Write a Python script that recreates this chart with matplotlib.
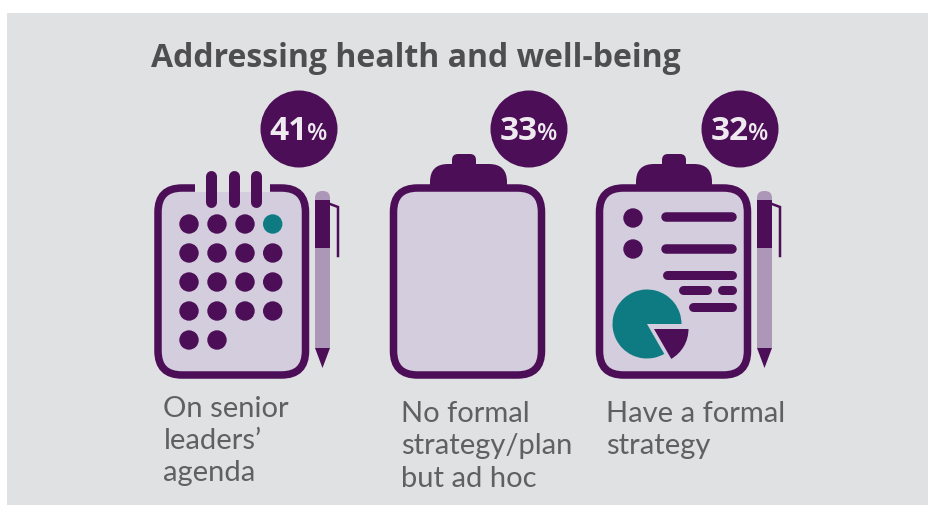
import matplotlib
matplotlib.use('Agg')
import matplotlib.pyplot as plt
from matplotlib.patches import Circle, FancyBboxPatch, Polygon, Rectangle, Wedge

percents = [41, 33, 32]
labels = [["On senior", "leaders’", "agenda"],
          ["No formal", "strategy/plan", "but ad hoc"],
          ["Have a formal", "strategy"]]
title = "Addressing health and well-being"
# dots on the calendar, per row (the last one in the top row is teal)
dot_rows = [4, 4, 4, 4, 2]
# pie on the report icon: teal part and pulled-out part, in degrees
pie_degrees = [300, 60]

PANEL = '#e0e1e3'
DARK = '#4c0e56'
FILL = '#d3cdde'
PEN = '#ad97b9'
TEAL = '#0e7b82'
TEXT = '#4e4e50'

fig = plt.figure(figsize=(9.29, 5.05), dpi=100, facecolor='white')
ax = fig.add_axes([0, 0, 1, 1])
ax.set_xlim(0, 929)
ax.set_ylim(505, 0)
ax.axis('off')

PX = 0.72  # points per pixel


def pill(x0, x1, y, h, color=DARK):
    ax.plot([x0 + h / 2, x1 - h / 2], [y, y], color=color, lw=h * PX,
            solid_capstyle='round', zorder=4)


def board(x0, x1, y0=188, y1=375):
    ax.add_patch(FancyBboxPatch((x0 + 24, y0 + 24), x1 - x0 - 48, y1 - y0 - 48,
                                boxstyle='round,pad=24,rounding_size=24',
                                facecolor=FILL, edgecolor=DARK, lw=7.5 * PX, zorder=2))


def clip(x0, x1, kx0, kx1):
    # knob and clamp sit behind the board, so only their tops show
    ax.add_patch(FancyBboxPatch((kx0 + 6, 160), kx1 - kx0 - 12, 14,
                                boxstyle='round,pad=6,rounding_size=6',
                                facecolor=DARK, edgecolor='none', zorder=1))
    ax.add_patch(FancyBboxPatch((x0 + 18, 182), x1 - x0 - 36, 10,
                                boxstyle='round,pad=18,rounding_size=18',
                                facecolor=DARK, edgecolor='none', zorder=1))


def pen(x0, x1):
    mid = (x0 + x1) / 2
    ax.add_patch(FancyBboxPatch((x0 + 7, 198), x1 - x0 - 14, 20,
                                boxstyle='round,pad=7,rounding_size=7',
                                facecolor=PEN, edgecolor='none', zorder=2))
    ax.add_patch(Rectangle((x0, 248), x1 - x0, 100, facecolor=PEN, edgecolor='none', zorder=2))
    ax.add_patch(Rectangle((x0, 200), x1 - x0, 48, facecolor=DARK, edgecolor='none', zorder=3))
    ax.add_patch(Polygon([(x0, 348), (x1, 348), (mid, 368)], facecolor=DARK,
                         edgecolor='none', zorder=3))
    ax.plot([x1, x1 + 8, x1 + 8], [204, 207, 256], color=DARK, lw=2.5 * PX,
            solid_joinstyle='miter', zorder=3)


def badge(cx, value):
    ax.add_patch(Circle((cx, 129), 38.5, facecolor=DARK, edgecolor='none', zorder=3))
    ax.text(cx + 9, 140, str(value), color='#eeeaf0', fontsize=24, fontweight='bold',
            family='Open Sans', ha='right', va='baseline', zorder=5)
    ax.text(cx + 8, 140, '%', color='#eeeaf0', fontsize=17, fontweight='semibold',
            family='Open Sans', ha='left', va='baseline', zorder=5)


# background panel
ax.add_patch(Rectangle((7, 13), 922, 492, facecolor=PANEL, edgecolor='none', zorder=0))

ax.text(151, 67, title, color=TEXT, fontsize=23, fontweight='bold',
        family='Open Sans', ha='left', va='baseline')

# calendar icon
board(158, 305.5)
ax.add_patch(Rectangle((195, 178), 75, 14, facecolor=PANEL, edgecolor='none', zorder=3))
for x in [211.5, 234.5, 256.5]:
    ax.plot([x, x], [175.5, 201.5], color=DARK, lw=11 * PX, solid_capstyle='round', zorder=4)

dot_x = [189, 217, 245, 272.7]
dot_y = [224, 253, 282, 311, 340]
for r, n in enumerate(dot_rows):
    for c in range(n):
        color = TEAL if (r == 0 and c == 3) else DARK
        ax.add_patch(Circle((dot_x[c], dot_y[r]), 9.7, facecolor=color,
                            edgecolor='none', zorder=4))
pen(315, 330)

# empty clipboard
board(393.5, 541.5)
clip(430, 507, 452, 476)

# report clipboard
board(599.5, 747.5)
clip(636, 712, 662, 686)
pen(757, 772)
for y in [218, 249]:
    ax.add_patch(Circle((633, y), 9.7, facecolor=DARK, edgecolor='none', zorder=4))
pill(661, 737, 216.5, 9.5)
pill(661, 737, 249, 9.5)
pill(663, 737, 275, 9)
pill(679, 712, 290, 9)
pill(718, 737, 290, 9)
pill(689, 737, 307, 9)

# pie with its slice pulled out (y axis points down, so angles run clockwise)
ax.add_patch(Wedge((647, 324), 34.5, pie_degrees[1], pie_degrees[1] + pie_degrees[0],
                   facecolor=TEAL, edgecolor='none', zorder=4))
ax.add_patch(Wedge((654, 329), 34.5, 0, pie_degrees[1], facecolor=DARK,
                   edgecolor='none', zorder=4))

for cx, value in zip([299, 529, 740], percents):
    badge(cx, value)

# captions, one text per line
label_pos = [(163.5, [417, 449, 481]), (401.5, [422, 454, 487]), (606.5, [422, 454])]
for (x, ys), lines in zip(label_pos, labels):
    for y, line in zip(ys, lines):
        ax.text(x, y, line, color='#606062', fontsize=21, fontweight='normal',
                family='Lato', ha='left', va='baseline')

fig.savefig('out.png', dpi=100, facecolor='white')
